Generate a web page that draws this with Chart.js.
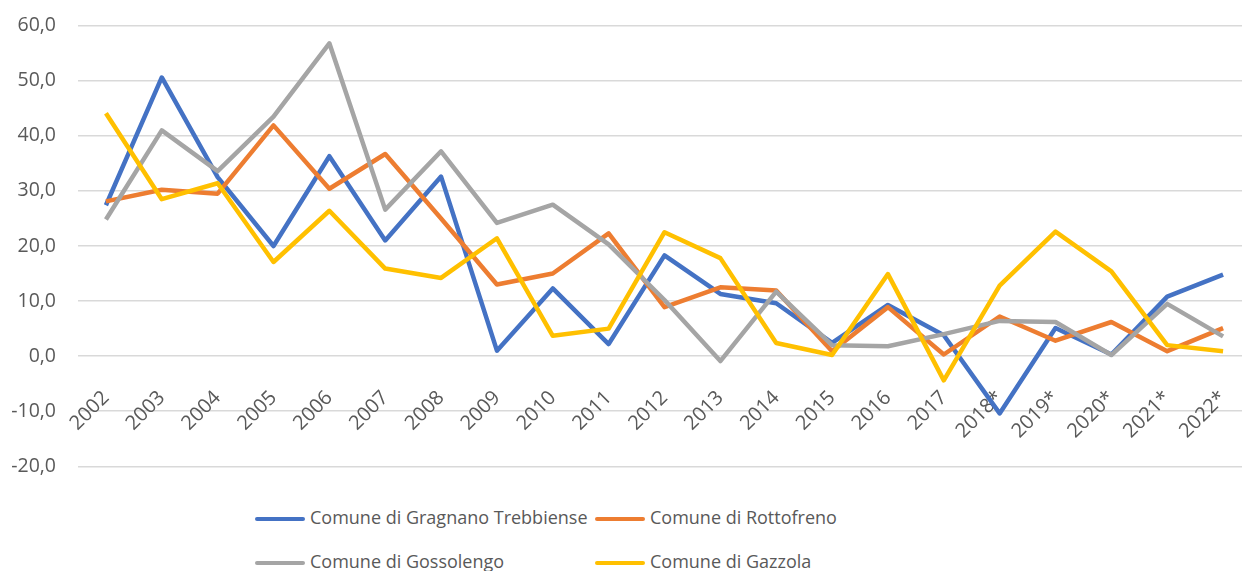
<!DOCTYPE html>
<html>
<head>
<meta charset="utf-8">
<script src="https://cdn.jsdelivr.net/npm/chart.js@4"></script>
<style>
  body { margin:0; background:#fff; }
  #wrap { position:relative; width:1242px; height:571px; overflow:hidden; font-family:"Open Sans", sans-serif; }
  #box { position:absolute; left:0; top:-8px; width:1267px; height:508px; }
  .legend { position:absolute; color:#595959; font-size:18px; white-space:nowrap; }
  .legend span { display:inline-block; width:50px; height:4px; border-radius:2px; vertical-align:middle; margin-right:5px; }
</style>
</head>
<body>
<div id="wrap">
  <div id="box"><canvas id="lineGraph"></canvas></div>
  <div class="legend" style="left:255px;top:505px"><span style="background:#4472C4"></span>Comune di Gragnano Trebbiense</div>
  <div class="legend" style="left:595px;top:505px"><span style="background:#ED7D31"></span>Comune di Rottofreno</div>
  <div class="legend" style="left:255px;top:549px"><span style="background:#A5A5A5"></span>Comune di Gossolengo</div>
  <div class="legend" style="left:595px;top:549px"><span style="background:#FFC000"></span>Comune di Gazzola</div>
</div>
<script>
var years = ['2002','2003','2004','2005','2006','2007','2008','2009','2010','2011','2012',
  '2013','2014','2015','2016','2017','2018*','2019*','2020*','2021*','2022*'];

var gragnano = [27.4, 50.6, 32.5, 20.0, 36.3, 21.0, 32.6, 1.0, 12.3, 2.2, 18.3,
  11.3, 9.6, 2.4, 9.3, 3.8, -10.4, 5.1, 0.3, 10.8, 14.8];
var rottofreno = [28.1, 30.2, 29.5, 41.9, 30.4, 36.7, 25.0, 13.0, 15.0, 22.3, 8.9,
  12.5, 11.9, 0.9, 8.9, 0.3, 7.2, 2.8, 6.2, 0.9, 5.1];
var gossolengo = [24.8, 41.0, 33.6, 43.5, 56.8, 26.6, 37.2, 24.2, 27.5, 20.3, 10.2,
  -0.9, 11.7, 2.0, 1.8, 4.0, 6.4, 6.2, 0.2, 9.5, 3.6];
var gazzola = [44.1, 28.5, 31.4, 17.1, 26.4, 15.9, 14.2, 21.4, 3.7, 5.0, 22.5,
  17.8, 2.4, 0.2, 14.9, -4.4, 12.8, 22.6, 15.4, 2.0, 0.9];

var yTicks = [-20, -10, 0, 10, 20, 30, 40, 50, 60];

function serie(label, data, color, order) {
  return { label: label, data: data, borderColor: color, backgroundColor: color,
    borderWidth: 4.5, pointRadius: 0, tension: 0, order: order, borderJoinStyle: 'round' };
}

var ctx = document.getElementById('lineGraph').getContext('2d');
var chart = new Chart(ctx, {
    type: 'line',
    data: {
        labels: years,
        datasets: [
            serie('Comune di Gragnano Trebbiense', gragnano, '#4472C4', 4),
            serie('Comune di Rottofreno', rottofreno, '#ED7D31', 3),
            serie('Comune di Gossolengo', gossolengo, '#A5A5A5', 2),
            serie('Comune di Gazzola', gazzola, '#FFC000', 1)
        ]
    },
    options: {
        responsive: true,
        maintainAspectRatio: false,
        animation: false,
        layout: { padding: { top: 6, right: 16, bottom: 14, left: 0 } },
        plugins: { legend: { display: false }, tooltip: { enabled: false } },
        scales: {
            x: {
                position: { y: 0 },
                offset: true,
                grid: { display: false, offset: true },
                border: { display: false },
                ticks: { color: '#595959', font: { family: 'Open Sans', size: 20 },
                    minRotation: 45, maxRotation: 45, padding: 22, autoSkip: false }
            },
            y: {
                min: -20, max: 60,
                afterFit: function(s) { s.width = 78; },
                afterBuildTicks: function(s) { s.ticks = yTicks.map(function(v) { return { value: v }; }); },
                grid: { color: '#d9d9d9', lineWidth: 1.5, drawTicks: false },
                border: { display: false },
                ticks: { color: '#595959', font: { family: 'Open Sans', size: 19.5 }, padding: 22,
                    callback: function(v) { return v.toFixed(1).replace('.', ','); } }
            }
        }
    }
});
</script>
</body>
</html>
